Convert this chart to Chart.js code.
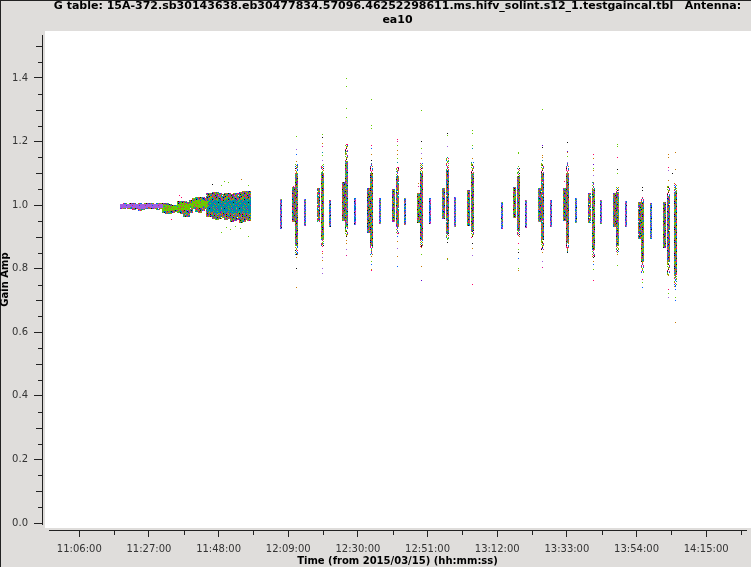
<!DOCTYPE html>
<html>
<head>
<meta charset="utf-8">
<title>G table ea10</title>
<script src="https://cdn.jsdelivr.net/npm/chart.js@4"></script>
<style>
    html, body { margin: 0; padding: 0; background: #dfdddb; }
    canvas { display: block; }
</style>
</head>
<body>
<canvas id="gainChart" width="751" height="567"></canvas>
<script>
// all times are minutes since 00:00 on 2015/03/15
const xTickValues = [666, 687, 708, 729, 750, 771, 792, 813, 834, 855];
const xTickLabels = ['11:06:00', '11:27:00', '11:48:00', '12:09:00', '12:30:00', '12:51:00', '13:12:00', '13:33:00', '13:54:00', '14:15:00'];
const xMinorTicks = [676.5, 697.5, 718.5, 739.5, 760.5, 781.5, 802.5, 823.5, 844.5, 865.5];
const yTickValues = [0, 0.2, 0.4, 0.6, 0.8, 1.0, 1.2, 1.4];
const yMidTicks = [0.1, 0.3, 0.5, 0.7, 0.9, 1.1, 1.3, 1.5];
const yMinorTicks = [0.05, 0.15, 0.25, 0.35, 0.45, 0.55, 0.65, 0.75, 0.85, 0.95, 1.05, 1.15, 1.25, 1.35, 1.45];

// first long scan, solint columns
const block1Times = [679, 679.9, 680.8, 681.7, 682.6, 683.5, 684.4, 685.3, 686.2, 687.1, 688, 688.9, 689.8, 690.7];
const block1Low = [0.988, 0.987, 0.988, 0.989, 0.986, 0.987, 0.983, 0.985, 0.988, 0.989, 0.987, 0.988, 0.986, 0.988];
const block1High = [1.005, 1.006, 1.005, 1.006, 1.006, 1.005, 1.006, 1.005, 1.006, 1.008, 1.006, 1.005, 1.007, 1.006];
const block1CoreLow = [0.992, 0.991, 0.992, 0.993, 0.990, 0.991, 0.988, 0.989, 0.992, 0.993, 0.991, 0.992, 0.990, 0.992];
const block1CoreHigh = [1.002, 1.003, 1.002, 1.003, 1.003, 1.002, 1.003, 1.002, 1.003, 1.004, 1.003, 1.002, 1.004, 1.003];

// second long scan, drifts up
const block2Times = [691.5, 692.4, 693.3, 694.2, 695.1, 696, 696.9, 697.8, 698.7, 699.6, 700.5, 701.4, 702.3, 703.2, 704.1];
const block2Low = [0.974, 0.971, 0.971, 0.974, 0.979, 0.976, 0.971, 0.964, 0.964, 0.974, 0.987, 0.979, 0.976, 0.983, 0.987];
const block2High = [1.008, 1.006, 1.004, 1.000, 1.000, 1.013, 1.014, 1.014, 1.011, 1.016, 1.021, 1.024, 1.024, 1.024, 1.021];
const block2CoreLow = [0.983, 0.983, 0.983, 0.985, 0.985, 0.986, 0.986, 0.984, 0.985, 0.990, 0.996, 0.994, 0.992, 0.993, 0.995];
const block2CoreHigh = [1.000, 0.999, 0.998, 0.997, 0.997, 1.004, 1.006, 1.005, 1.004, 1.008, 1.013, 1.015, 1.014, 1.015, 1.013];

// third long scan, widest spread
const block3Times = [704.8, 705.7, 706.6, 707.5, 708.4, 709.3, 710.2, 711.1, 712, 712.9, 713.8, 714.7, 715.6, 716.5, 717.1];
const block3Low = [0.964, 0.962, 0.955, 0.953, 0.955, 0.960, 0.953, 0.955, 0.948, 0.951, 0.953, 0.945, 0.947, 0.953, 0.951];
const block3High = [1.039, 1.037, 1.041, 1.041, 1.037, 1.035, 1.039, 1.037, 1.035, 1.039, 1.037, 1.041, 1.043, 1.045, 1.045];
const block3CoreLow = [0.978, 0.977, 0.975, 0.976, 0.977, 0.978, 0.975, 0.976, 0.974, 0.975, 0.976, 0.974, 0.975, 0.976, 0.976];
const block3CoreHigh = [1.016, 1.015, 1.017, 1.016, 1.015, 1.014, 1.016, 1.015, 1.014, 1.015, 1.016, 1.017, 1.017, 1.018, 1.017];

// short calibrator scans
const shortTimes = [726.7, 734, 741.6, 749.1, 756.7, 764.2, 771.7, 779.3, 793.4, 800.7, 808.2, 815.7, 823.3, 830.8, 838.4];
const shortLow = [0.924, 0.934, 0.930, 0.937, 0.941, 0.937, 0.941, 0.932, 0.924, 0.927, 0.932, 0.945, 0.941, 0.932, 0.892];
const shortHigh = [1.018, 1.018, 1.016, 1.021, 1.021, 1.021, 1.021, 1.027, 1.011, 1.016, 1.016, 1.021, 1.016, 1.013, 1.006];

// wider columns just before each tall one
const wideTimes = [730.7, 738.1, 745.65, 753.2, 760.7, 768.3, 775.8, 783.3, 797.2, 804.7, 812.3, 819.8, 827.3, 834.9, 842.3];
const wideLow = [0.948, 0.948, 0.951, 0.913, 0.948, 0.943, 0.956, 0.935, 0.958, 0.948, 0.951, 0.945, 0.932, 0.892, 0.864];
const wideHigh = [1.058, 1.053, 1.074, 1.053, 1.050, 1.037, 1.053, 1.047, 1.058, 1.053, 1.053, 1.037, 1.037, 1.011, 1.011];

// tall columns: full reach, and the part that is packed solid
const tallTimes = [731.6, 739.2, 746.7, 754.2, 761.8, 769.3, 776.9, 784.4, 798.3, 805.8, 813.3, 820.9, 828.4, 835.9, 843.5, 845.6];
const tallLow = [0.843, 0.869, 0.901, 0.843, 0.908, 0.864, 0.890, 0.895, 0.901, 0.859, 0.848, 0.838, 0.848, 0.785, 0.780, 0.743];
const tallHigh = [1.128, 1.128, 1.192, 1.131, 1.119, 1.131, 1.150, 1.137, 1.116, 1.131, 1.131, 1.074, 1.056, 1.024, 1.060, 1.068];
const tallCoreLow = [0.87, 0.89, 0.93, 0.87, 0.93, 0.89, 0.91, 0.92, 0.92, 0.89, 0.88, 0.86, 0.87, 0.82, 0.82, 0.78];
const tallCoreHigh = [1.10, 1.10, 1.14, 1.10, 1.09, 1.10, 1.11, 1.10, 1.09, 1.10, 1.10, 1.05, 1.04, 1.01, 1.03, 1.04];

// single points away from the dense columns, [time, amp]
const strayGreen = [[731.6, 1.216], [739.2, 1.223], [739.2, 1.157], [739.2, 0.880], [746.7, 1.399], [746.7, 1.374], [746.7, 1.304], [746.7, 1.275], [746.7, 1.126], [754.2, 1.333], [754.2, 1.251], [754.2, 1.241], [754.2, 0.874], [754.2, 0.823], [761.8, 1.188], [761.8, 1.147], [769.3, 1.298], [769.3, 1.179], [769.3, 0.845], [776.9, 1.219], [776.9, 0.829], [784.4, 1.235], [784.4, 1.226], [784.4, 1.188], [798.3, 1.166], [798.3, 1.163], [798.3, 1.122], [798.3, 0.861], [798.3, 0.801], [805.8, 1.301], [813.3, 1.152], [820.9, 1.116], [820.9, 0.798], [828.4, 1.191], [828.4, 1.185], [828.4, 1.100], [828.4, 0.811], [835.9, 0.758], [843.5, 0.722], [845.6, 0.710], [708.8, 0.914], [716.95, 0.902], [708.8, 1.063], [710.5, 0.930], [711.7, 0.923], [713.2, 0.934], [714.7, 0.927], [709.9, 1.074], [711.1, 1.070], [716.9, 1.063]];
const strayOrange = [[731.6, 1.138], [731.6, 0.836], [731.6, 0.741], [739.2, 1.194], [739.2, 0.848], [739.2, 0.826], [746.7, 1.169], [746.7, 0.890], [746.7, 0.880], [754.2, 1.160], [754.2, 0.838], [754.2, 0.798], [761.8, 1.172], [761.8, 1.160], [761.8, 0.886], [761.8, 0.839], [769.3, 1.147], [769.3, 0.807], [768.3, 1.068], [776.9, 0.833], [784.4, 1.147], [784.4, 0.864], [798.3, 0.795], [805.8, 1.157], [805.8, 1.150], [805.8, 0.880], [805.8, 0.851], [813.3, 1.166], [813.3, 0.867], [813.3, 0.856], [820.9, 1.147], [820.9, 1.108], [820.9, 0.823], [828.4, 0.845], [843.5, 1.160], [843.5, 1.150], [843.5, 1.078], [843.5, 0.779], [845.6, 1.166], [845.6, 1.113], [845.6, 0.631], [715, 1.081]];
const strayRed = [[730.7, 1.058], [739.2, 0.854], [746.7, 1.192], [754.2, 1.188], [754.2, 0.795], [761.8, 1.206], [784.4, 0.751], [798.3, 0.880], [812.3, 1.075], [820.9, 1.160], [820.9, 0.763], [828.4, 1.150], [835.9, 0.766], [843.5, 1.119], [843.5, 0.735], [693.9, 0.955], [696.1, 1.031], [696.7, 1.024]];
const strayMagenta = [[739.2, 1.185], [746.7, 0.840], [754.2, 0.850], [761.8, 1.201], [768.3, 1.060], [805.8, 0.804]];
const strayPurple = [[731.6, 1.175], [739.2, 1.139], [739.2, 0.836], [739.2, 0.801], [739.2, 0.785], [746.7, 1.158], [746.7, 0.859], [761.8, 0.864], [769.3, 1.163], [776.9, 1.185], [784.4, 0.842], [805.8, 0.823], [813.3, 1.135], [820.9, 1.094], [843.5, 1.109], [843.5, 0.710]];
const strayBlue = [[731.6, 1.160], [745.65, 1.065], [746.7, 0.840], [754.2, 1.179], [754.2, 0.812], [761.8, 0.901], [761.8, 0.807], [798.3, 0.833], [805.8, 0.862], [820.9, 0.812], [835.9, 0.740], [845.6, 0.701], [845.6, 0.733]];
const strayBlack = [[731.6, 0.845], [731.6, 0.801], [739.2, 1.213], [754.2, 1.141], [769.3, 1.201], [769.3, 0.869], [776.9, 1.226], [776.9, 0.883], [784.4, 0.880], [798.3, 0.851], [805.8, 1.182], [813.3, 1.197], [813.3, 0.851], [820.9, 0.835], [828.4, 1.113], [835.9, 1.056], [835.9, 1.046], [844.7, 1.100], [706.3, 1.065], [697.9, 0.963]];
const strayTeal = [[739.2, 1.166], [754.2, 0.864], [761.8, 1.135], [784.4, 1.179], [805.8, 1.141]];
const strayViolet = [[769.3, 0.763], [805.8, 1.188], [813.3, 1.169], [820.9, 1.128]];

const palette = { g: '#66cc00', t: '#0090a0', m: '#e0108c', r: '#ff0066', o: '#c87800', b: '#0060ff', p: '#a060e0', v: '#6000d0', k: '#111111', s: '#00c060' };

// little pixel tiles used to fill the dense columns, the points there are too many to list
// a dot in a tile stays see-through
const mixTile = [
    'gobtmgokbrpgot.m',
    'tkgormbgvtomgbto',
    'bmogtgrokgbprgtk',
    'oggsbtovgmtkbort',
    'rgtokbgmogstvmgb',
    'gbmgotrgbsogmtok',
    'vokrgbmtopgbogrt',
    'mgtbsgkgrtbmgvob',
    'ogkmtvobgogrbtgm',
    'bpogrgtmbkotg.og',
    'grbotmogvgbmkotb',
    'tomgkbrgsogtbrmv',
    'ksgbomtgrvobmgto'
];
const sparseTile = [
    'g.ob.m.b.gk.t.',
    '.b.og.t.o..r.m',
    'o.gt.mr..g.b.m',
    '.km.o.k.b.go.t',
    'r..bg.m.t.o.g.',
    '.o.b.gm.r.k.o.',
    'g.g.to.m.r..b.',
    't.o..b.g.k.m.g',
    '.k.r.m.o.t.b.g',
    'm.b.g..t.g..o.',
    '.g.b.t.m.og.r.'
];
const shortTile = [
    'pbtpmbpgptbmkpg',
    'bptkpbsmpbpgtpb',
    'mpbptgpbvpmbppt',
    'tgpbmpbptkpbgpm',
    'pbrpbtpgmbptbpo',
    'bpsgpmbtpbrpmbp',
    'kptbpgpbmptpbgt',
    'pmbpvtbpgbpktpb',
    'gbpmtpbrptbpgmp',
    'tpbgpbkpmbspbpt',
    'bmptbpgtpbvpmgb'
];
const tealTile = [
    'ttttgttmtttottb',
    'tbtttttttbttttt',
    'tttotttgtttmttg',
    'ttmtttbttttttgt',
    'ttttttttkttottt',
    'gtttmtttttbtttm',
    'tttttottgtttttt',
    'tbttttttttmttot',
    'tttgttotttttbtt',
    'tmtttttbtttgttt',
    'tttottmttttpttk'
];
const purpleTile = [
    'ppppppppppppp',
    'ppppppppppppp',
    'pppgppppppmpp',
    'ppppppppppppp',
    'ppppppppppppp',
    'ppmppppppbppp',
    'ppppppppppppp',
    'ppppppppppppp'
];
const greenTile = [
    'ggggoggggrggg',
    'gggggggggggog',
    'gogggmggggggg',
    'gggggggggoggg',
    'ggrgggggggggm',
    'ggggggogggggg',
    'ggggggggbgggo',
    'gmgggggggggrg'
];

function makeTile(rows) {
    const c = document.createElement('canvas');
    c.width = rows[0].length;
    c.height = rows.length;
    const g = c.getContext('2d');
    rows.forEach(function(row, y) {
        row.split('').forEach(function(ch, x) {
            if (ch === '.') {
                return;
            }
            g.fillStyle = palette[ch];
            g.fillRect(x, y, 1, 1);
        });
    });
    return g.createPattern(c, 'repeat');
}

function barSet(times, low, high, tile, thickness, order) {
    return {
        type: 'bar',
        data: times.map(function(t, i) { return { x: t, y: [low[i], high[i]] }; }),
        backgroundColor: makeTile(tile),
        barThickness: thickness,
        inflateAmount: 0,
        grouped: false,
        order: order
    };
}

function straySet(points, color) {
    return {
        type: 'scatter',
        data: points.map(function(p) { return { x: p[0], y: p[1] }; }),
        backgroundColor: color,
        borderWidth: 0,
        pointStyle: 'rect',
        pointRadius: 0.75,
        order: 0
    };
}

// paints the grey window with the white plot rectangle, and the small axis ticks
const frame = {
    id: 'frame',
    afterLayout: function(chart) {
        // the axes sit a bit away from the data rectangle
        const xs = chart.scales.x, ys = chart.scales.y;
        ys.left -= 7; ys.right -= 7;
        xs.top += 6; xs.bottom += 6;
    },
    beforeDraw: function(chart) {
        const c = chart.ctx;
        c.save();
        c.fillStyle = '#dfdddb';
        c.fillRect(0, 0, 751, 567);
        c.fillStyle = '#ffffff';
        c.fillRect(45, 31, 706, 497);
        c.fillStyle = '#222222';
        c.fillRect(0, 0, 751, 1);
        c.fillRect(0, 0, 1, 567);
        c.restore();
    },
    beforeDatasetsDraw: function(chart) {
        // snap marks to whole pixels so the tiles stay crisp
        chart.getSortedVisibleDatasetMetas().forEach(function(meta) {
            meta.data.forEach(function(el) {
                if (meta.type === 'bar') {
                    el.x = Math.round(el.x - el.width / 2) + el.width / 2;
                    el.y = Math.round(el.y);
                    el.base = Math.round(el.base);
                } else {
                    el.x = Math.floor(el.x) + 0.5;
                    el.y = Math.floor(el.y) + 0.5;
                }
            });
        });
    },
    afterDraw: function(chart) {
        const c = chart.ctx, xs = chart.scales.x, ys = chart.scales.y;
        c.save();
        c.strokeStyle = '#222222';
        c.lineWidth = 1;
        c.beginPath();
        xMinorTicks.forEach(function(v) {
            const px = Math.round(xs.getPixelForValue(v)) + 0.5;
            c.moveTo(px, 530);
            c.lineTo(px, 535);
        });
        yMidTicks.forEach(function(v) {
            const py = Math.round(ys.getPixelForValue(v)) + 0.5;
            c.moveTo(36, py);
            c.lineTo(42, py);
        });
        yMinorTicks.forEach(function(v) {
            const py = Math.round(ys.getPixelForValue(v)) + 0.5;
            c.moveTo(38, py);
            c.lineTo(42, py);
        });
        c.stroke();
        c.restore();
    }
};

new Chart(document.getElementById('gainChart'), {
    type: 'scatter',
    data: {
        datasets: [
            barSet(block1Times, block1Low, block1High, mixTile, 4, 6),
            barSet(block1Times, block1CoreLow, block1CoreHigh, purpleTile, 4, 5),
            barSet(block2Times, block2Low, block2High, mixTile, 4, 6),
            barSet(block2Times, block2CoreLow, block2CoreHigh, greenTile, 4, 5),
            barSet(block3Times, block3Low, block3High, mixTile, 4, 6),
            barSet(block3Times, block3CoreLow, block3CoreHigh, tealTile, 4, 5),
            barSet(shortTimes, shortLow, shortHigh, shortTile, 2, 4),
            barSet(wideTimes, wideLow, wideHigh, mixTile, 3, 3),
            barSet(tallTimes, tallLow, tallHigh, sparseTile, 3, 2),
            barSet(tallTimes, tallCoreLow, tallCoreHigh, mixTile, 3, 1),
            straySet(strayGreen, palette.g),
            straySet(strayOrange, palette.o),
            straySet(strayRed, palette.r),
            straySet(strayMagenta, palette.m),
            straySet(strayPurple, palette.p),
            straySet(strayBlue, palette.b),
            straySet(strayBlack, palette.k),
            straySet(strayTeal, palette.t),
            straySet(strayViolet, palette.v)
        ]
    },
    plugins: [frame],
    options: {
        responsive: false,
        animation: false,
        layout: { padding: { top: 0, right: 5, bottom: 0, left: 0 } },
        plugins: {
            legend: { display: false },
            tooltip: { enabled: false },
            title: {
                display: true,
                fullSize: false,
                text: ['G table: 15A-372.sb30143638.eb30477834.57096.46252298611.ms.hifv_solint.s12_1.testgaincal.tbl   Antenna:', 'ea10'],
                color: '#000000',
                font: { family: '"DejaVu Sans"', size: 11, weight: 'bold', lineHeight: 1.2 },
                padding: { top: 0, bottom: 8.6 }
            }
        },
        scales: {
            x: {
                type: 'linear',
                min: 656.87,
                max: 867,
                offset: false,
                afterFit: function(s) { s.height = 43; },
                afterBuildTicks: function(s) { s.ticks = xTickValues.map(function(v) { return { value: v }; }); },
                border: { display: true, color: '#222222', width: 1 },
                grid: { offset: false, drawOnChartArea: false, drawTicks: true, tickLength: 7, tickColor: '#222222', tickWidth: 1 },
                ticks: {
                    autoSkip: false,
                    maxRotation: 0,
                    padding: 6,
                    color: '#333333',
                    font: { family: '"DejaVu Sans"', size: 10 },
                    callback: function(v, i) { return xTickLabels[i]; }
                },
                title: {
                    display: true,
                    text: 'Time (from 2015/03/15) (hh:mm:ss)',
                    color: '#000000',
                    font: { family: '"DejaVu Sans"', size: 10, weight: 'bold', lineHeight: 1.2 },
                    padding: { top: 0, bottom: 6 }
                }
            },
            y: {
                type: 'linear',
                min: -0.0031,
                max: 1.5351,
                afterFit: function(s) { s.width = 49; },
                afterBuildTicks: function(s) { s.ticks = yTickValues.map(function(v) { return { value: v }; }); },
                border: { display: true, color: '#222222', width: 1 },
                grid: { drawOnChartArea: false, drawTicks: true, tickLength: 8, tickColor: '#222222', tickWidth: 1 },
                ticks: {
                    autoSkip: false,
                    padding: 6,
                    color: '#333333',
                    font: { family: '"DejaVu Sans"', size: 10 },
                    callback: function(v) { return v.toFixed(1); }
                },
                title: {
                    display: true,
                    text: 'Gain Amp',
                    color: '#000000',
                    font: { family: '"DejaVu Sans"', size: 10, weight: 'bold', lineHeight: 1.2 },
                    padding: { top: 6, bottom: 0 }
                }
            }
        }
    }
});
</script>
</body>
</html>
